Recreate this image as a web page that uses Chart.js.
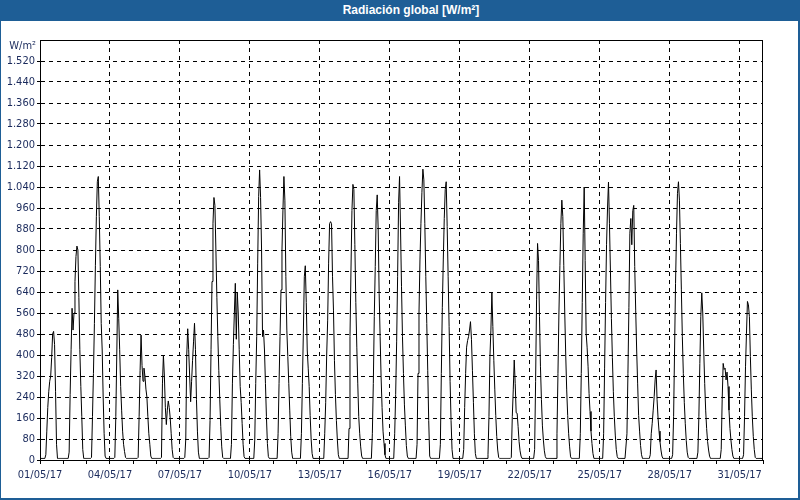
<!DOCTYPE html>
<html lang="es">
<head>
<meta charset="UTF-8">
<title>Radiación global</title>
<script src="https://cdn.jsdelivr.net/npm/chart.js"></script>
<style>
  html, body { margin: 0; padding: 0; background: #fff; }
  .marco { position: relative; width: 800px; height: 500px; overflow: hidden; background: #fff; }
  .cabecera {
    position: absolute; left: 0; top: 0; width: 800px; height: 21px;
    box-sizing: border-box; padding-left: 22px;
    background: #1e5e96; color: #fff; text-align: center;
    font: bold 12px "Liberation Sans", Arial, sans-serif; line-height: 21px;
  }
  .lienzo { position: absolute; left: 0; top: 20px; width: 800px; height: 480px; }
  .borde { position: absolute; background: #1e5e96; }
</style>
</head>
<body>
<div class="marco">
  <div class="lienzo"><canvas id="grafico" width="800" height="480"></canvas></div>
  <div class="cabecera">Radiación global [W/m²]</div>
  <div class="borde" style="left:0;top:0;width:1px;height:500px"></div>
  <div class="borde" style="right:0;top:0;width:2px;height:500px"></div>
  <div class="borde" style="left:0;bottom:0;width:800px;height:2px"></div>
</div>

<script>
// etiquetas de fecha (una por día)
const fechas = [
  '01/05/17','02/05/17','03/05/17','04/05/17','05/05/17','06/05/17','07/05/17','08/05/17',
  '09/05/17','10/05/17','11/05/17','12/05/17','13/05/17','14/05/17','15/05/17','16/05/17',
  '17/05/17','18/05/17','19/05/17','20/05/17','21/05/17','22/05/17','23/05/17','24/05/17',
  '25/05/17','26/05/17','27/05/17','28/05/17','29/05/17','30/05/17','31/05/17'
];

// radiación global horaria en W/m2, una fila de 24 horas por día
const radiacion = [
  [6,6,6,6,6,6,20,110,200,260,300,320,390,480,490,440,260,60,6,6,6,6,6,6],          // 01/05
  [6,6,6,6,6,6,30,250,420,578,495,560,680,775,815,800,620,420,280,165,40,6,6,6],     // 02/05
  [6,6,6,6,6,10,165,330,520,740,927,1060,1080,927,737,520,419,240,100,15,6,6,6,6],   // 03/05
  [6,6,6,6,6,10,165,400,648,540,420,280,190,110,60,32,10,6,6,6,6,6,6,6],             // 04/05
  [6,6,6,6,6,10,165,340,476,360,300,350,320,270,240,165,100,60,15,6,6,6,6,6],        // 05/05
  [6,6,6,6,6,10,290,400,320,200,135,190,225,200,160,100,40,10,6,6,6,6,6,6],          // 06/05
  [6,6,6,6,6,10,80,400,500,420,320,222,300,380,450,521,420,230,110,30,6,6,6,6],      // 07/05
  [6,6,6,6,6,6,10,150,420,680,900,1000,970,800,620,470,340,230,127,50,10,6,6,6],     // 08/05
  [6,6,6,6,6,60,290,440,560,673,460,640,560,420,280,220,140,60,13,6,6,6,6,6],        // 09/05
  [6,6,6,6,6,76,292,470,750,1003,1105,1000,800,470,495,419,292,165,63,13,6,6,6,6],   // 10/05
  [6,6,6,6,6,100,292,470,648,800,952,1080,990,700,495,394,292,190,90,30,6,6,6,6],    // 11/05
  [6,6,6,6,6,100,292,483,698,740,600,419,350,280,170,80,25,6,6,6,6,6,6,6],           // 12/05
  [6,6,6,6,6,100,220,400,530,750,900,908,900,700,571,380,250,150,76,20,6,6,6,6],     // 13/05
  [6,6,6,6,6,6,120,470,720,950,1050,1030,820,600,430,290,165,100,50,15,6,6,6,6],     // 14/05
  [6,6,6,6,6,6,100,292,546,737,950,1010,880,635,470,317,200,110,63,20,6,6,6,6],      // 15/05
  [6,6,6,6,6,100,250,450,700,980,1080,880,660,470,330,210,130,55,15,6,6,6,6,6],      // 16/05
  [6,6,6,6,60,330,560,762,900,1020,1108,1067,900,700,520,340,150,15,6,6,6,6,6,6],    // 17/05
  [6,6,6,6,60,330,580,762,920,1030,1060,889,698,508,300,150,40,6,6,6,6,6,6,6],       // 18/05
  [6,6,6,6,40,200,330,430,455,470,495,527,460,340,220,100,25,6,6,6,6,6,6,6],         // 19/05
  [6,6,6,6,6,20,165,394,495,637,508,380,270,170,90,38,10,6,6,6,6,6,6,6],             // 20/05
  [6,6,6,6,6,10,165,267,381,292,180,178,127,70,35,15,6,6,6,6,6,6,6,6],               // 21/05
  [6,6,6,6,6,40,300,610,825,760,546,355,230,130,76,35,13,6,6,6,6,6,6,6],             // 22/05
  [6,6,6,6,100,330,560,740,900,990,927,740,560,400,267,170,100,50,12,6,6,6,6,6],     // 23/05
  [6,6,6,6,100,330,600,864,1040,760,483,430,355,254,185,110,63,25,6,6,6,6,6,6],      // 24/05
  [6,6,6,6,100,350,600,820,960,1059,900,720,540,390,260,165,95,40,13,6,6,6,6,6],     // 25/05
  [6,6,6,6,100,330,580,864,920,820,950,970,737,571,419,290,170,110,55,20,6,6,6,6],   // 26/05
  [6,6,6,6,20,100,140,190,241,305,343,230,160,110,70,38,15,6,6,6,6,6,6,6],           // 27/05
  [6,6,6,20,165,419,673,864,1016,1060,990,825,648,470,330,220,140,75,30,10,6,6,6,6], // 28/05
  [6,6,6,6,6,30,165,368,546,637,560,419,292,190,120,70,38,15,6,6,6,6,6,6],           // 29/05
  [6,6,6,6,6,40,230,368,345,350,305,335,280,190,120,76,40,15,6,6,6,6,6,6],           // 30/05
  [6,6,6,6,20,165,355,483,604,591,546,394,267,165,90,40,10,6,6,6,6,6,6,6]            // 31/05
];

const unidad = 'W/m²';
const yMax = 1600;
const yPaso = 80;

const colorTexto = '#1a2a5c';
const fuente = { family: '"DejaVu Sans Condensed", "DejaVu Sans", sans-serif', size: 11 };

const puntos = radiacion.flat().map((v, i) => ({ x: i, y: v }));
const horas = radiacion.length * 24;

function miles(v) {
  if (v < 1000) return String(v);
  return Math.floor(v / 1000) + '.' + String(v % 1000).padStart(3, '0');
}

// recuadro negro alrededor del área de trazado + unidad del eje Y
const marcoPlugin = {
  id: 'marco',
  afterDraw(chart) {
    const { ctx, chartArea: a } = chart;
    ctx.save();
    ctx.strokeStyle = '#000';
    ctx.lineWidth = 1;
    ctx.strokeRect(Math.round(a.left) + 0.5, Math.round(a.top) + 0.5,
      Math.round(a.right - a.left) - 1, Math.round(a.bottom - a.top));
    ctx.fillStyle = colorTexto;
    ctx.font = fuente.size + 'px ' + fuente.family;
    ctx.textAlign = 'right';
    ctx.textBaseline = 'middle';
    ctx.fillText(unidad, a.left - 4, a.top + 6);
    ctx.restore();
  }
};

new Chart(document.getElementById('grafico'), {
  type: 'line',
  data: {
    datasets: [{
      data: puntos,
      borderColor: '#000',
      borderWidth: 1,
      pointRadius: 0,
      tension: 0,
      fill: false
    }]
  },
  options: {
    responsive: false,
    animation: false,
    devicePixelRatio: 1,
    layout: { padding: { top: 20, right: 37, left: 0, bottom: 0 } },
    plugins: { legend: { display: false }, tooltip: { enabled: false } },
    scales: {
      x: {
        type: 'linear',
        min: 0,
        max: horas,
        afterFit: s => { s.height = 40; },
        ticks: {
          stepSize: 24,
          autoSkip: false,
          maxRotation: 0,
          padding: 5,
          color: colorTexto,
          font: fuente,
          callback: v => (v % 72 === 0 && fechas[v / 24]) ? fechas[v / 24] : ''
        },
        grid: {
          color: c => (c.tick && c.tick.value % 72 === 0 && c.tick.value > 0 && c.tick.value < horas) ? '#000' : 'rgba(0,0,0,0)',
          tickColor: '#000',
          tickLength: 4,
          lineWidth: 1
        },
        border: { color: '#000', width: 1, dash: [4, 4] }
      },
      y: {
        min: 0,
        max: yMax,
        afterFit: s => { s.width = 40; },
        ticks: {
          stepSize: yPaso,
          padding: 2,
          color: colorTexto,
          font: fuente,
          callback: v => v === yMax ? '' : miles(v)
        },
        grid: {
          color: c => (c.tick && c.tick.value > 0 && c.tick.value < yMax) ? '#000' : 'rgba(0,0,0,0)',
          tickColor: c => (c.tick && c.tick.value < yMax) ? '#000' : 'rgba(0,0,0,0)',
          tickLength: 3,
          lineWidth: 1
        },
        border: { color: '#000', width: 1, dash: [4, 4] }
      }
    }
  },
  plugins: [marcoPlugin]
});
</script>
</body>
</html>
